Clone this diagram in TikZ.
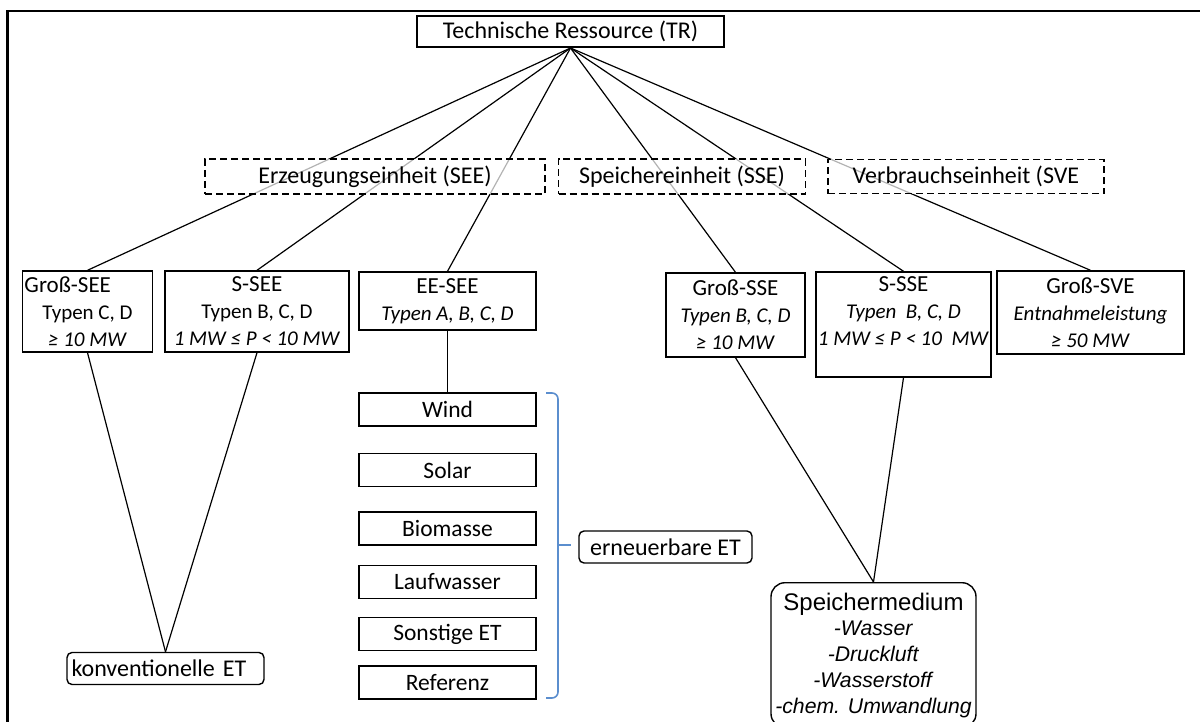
\documentclass[tikz,border=0pt]{standalone}
\usepackage{fontspec}
\setmainfont{Carlito}
\newfontfamily\arialfont{Liberation Sans}
\usetikzlibrary{calc}
\definecolor{bracecol}{RGB}{91,142,206}
\newcommand{\sub}[1]{{\fontsize{10.5}{13.5}\selectfont #1}}

\begin{document}
\begin{tikzpicture}[x=0.5pt, y=-0.5pt, every node/.style={font=\fontsize{12}{13.5}\selectfont},
  box/.style={draw, line width=0.7pt, inner sep=1pt, align=center, font=\fontsize{11.5}{13.5}\selectfont},
  groupbox/.style={draw, dash pattern=on 3.5pt off 2pt, line width=0.7pt, fill=white, fill opacity=0.7, text opacity=1, minimum height=16.5pt},
  srcbox/.style={box, minimum width=88.5pt, minimum height=16.5pt, font=\fontsize{11.75}{13.5}\selectfont},
  termbox/.style={draw, rounded corners=2.5pt, line width=0.7pt, inner sep=1pt, minimum height=16pt},
  link/.style={line width=0.6pt}]
\clip (0,0) rectangle (1200,722);
\draw[line width=1.1pt] (7.5,11) rectangle (1215,745);

\node[box, line width=1pt, minimum width=153.5pt, minimum height=15.5pt, font=\fontsize{12}{13.5}\selectfont] (tr) at (570.5,31.5) {Technische Ressource (TR)};

\node[box, minimum width=65pt, minimum height=40.5pt] (gsee) at (87.5,311.5) {\makebox[63pt][l]{Groß-SEE}\\ \sub{Typen C, D}\\ \sub{\textit{≥ 10 MW}}};
\node[box, minimum width=92pt, minimum height=40.5pt] (ssee) at (257,311.5) {S-SEE\\ \sub{Typen B, C, D}\\ \sub{\textit{1 MW ≤ P < 10 MW}}};
\node[box, minimum width=88.5pt, minimum height=29pt] (eesee) at (447.5,301) {EE-SEE\\ \sub{\textit{Typen A, B, C, D}}};
\node[box, minimum width=69.5pt, minimum height=42pt] (gsse) at (735.5,315) {Groß-SSE\\ \sub{\textit{Typen B, C, D}}\\ \sub{\textit{≥ 10 MW}}};
\node[box, minimum width=83.5pt, minimum height=52.5pt] (ssse) at (903.5,324.5) {S-SSE\\ \sub{\textit{Typen\ \ B, C, D}}\\ \sub{\textit{1 MW ≤ P < 10\ \ MW}}\\ \mbox{}};
\node[box, minimum width=93.5pt, minimum height=41.5pt] (gsve) at (1090.5,312.5) {Groß-SVE\\ \sub{\textit{Entnahmeleistung}}\\ \sub{\textit{≥ 50 MW}}};

\foreach \n in {gsee,ssee,eesee,gsse,ssse,gsve}
  \draw[link] (tr.south) -- (\n.north);

\node[groupbox, minimum width=170pt] (gsee-grp) at (375,176.5) {Erzeugungseinheit (SEE)};
\node[groupbox, minimum width=123.5pt] (gsse-grp) at (682,176.5) {Speichereinheit (SSE)};
\node[groupbox, minimum width=138pt] (gsve-grp) at (966,176.5) {Verbrauchseinheit (SVE};

\foreach \n/\y/\t in {wind/409.5/Wind, solar/470/Solar, bio/528.5/Biomasse, lauf/582/Laufwasser, sonst/634/Sonstige ET, ref/682.5/Referenz}
  \node[srcbox] (\n) at (447.5,\y) {\t};
\draw[link] (eesee.south) -- (wind.north);

\node[termbox, minimum width=98.5pt, text width=94pt, align=left] (konv) at (165.5,668.5) {konventionelle ET};
\draw[link] (gsee.south) -- (konv.north);
\draw[link] (ssee.south) -- (konv.north);

\node[termbox, minimum width=86.5pt] (ern) at (665.5,547) {erneuerbare ET};
\coordinate (brtop) at (546,393);
\coordinate (brbot) at (546,698);
\coordinate (brmid) at (558,545);
\draw[bracecol, line width=0.8pt, rounded corners=3pt] (brtop) -| (brmid) |- (brbot);
\draw[bracecol, line width=0.8pt] (brmid) -- ($(ern.west)+(-7,-2)$);

\node[draw, rounded corners=7pt, line width=0.7pt, anchor=north, minimum width=102.5pt, inner xsep=1.5pt, inner ysep=5pt, align=center,
  font=\arialfont\fontsize{10.6}{12.9}\selectfont] (spm) at (873.5,582)
  {{\fontsize{12}{12.9}\selectfont Speichermedium}\\ \textit{-Wasser}\\ \textit{-Druckluft}\\ \textit{-Wasserstoff}\\ \textit{-chem. Umwandlung}};
\draw[link] (gsse.south) -- (spm.north);
\draw[link] (ssse.south) -- (spm.north);
\end{tikzpicture}
\end{document}
